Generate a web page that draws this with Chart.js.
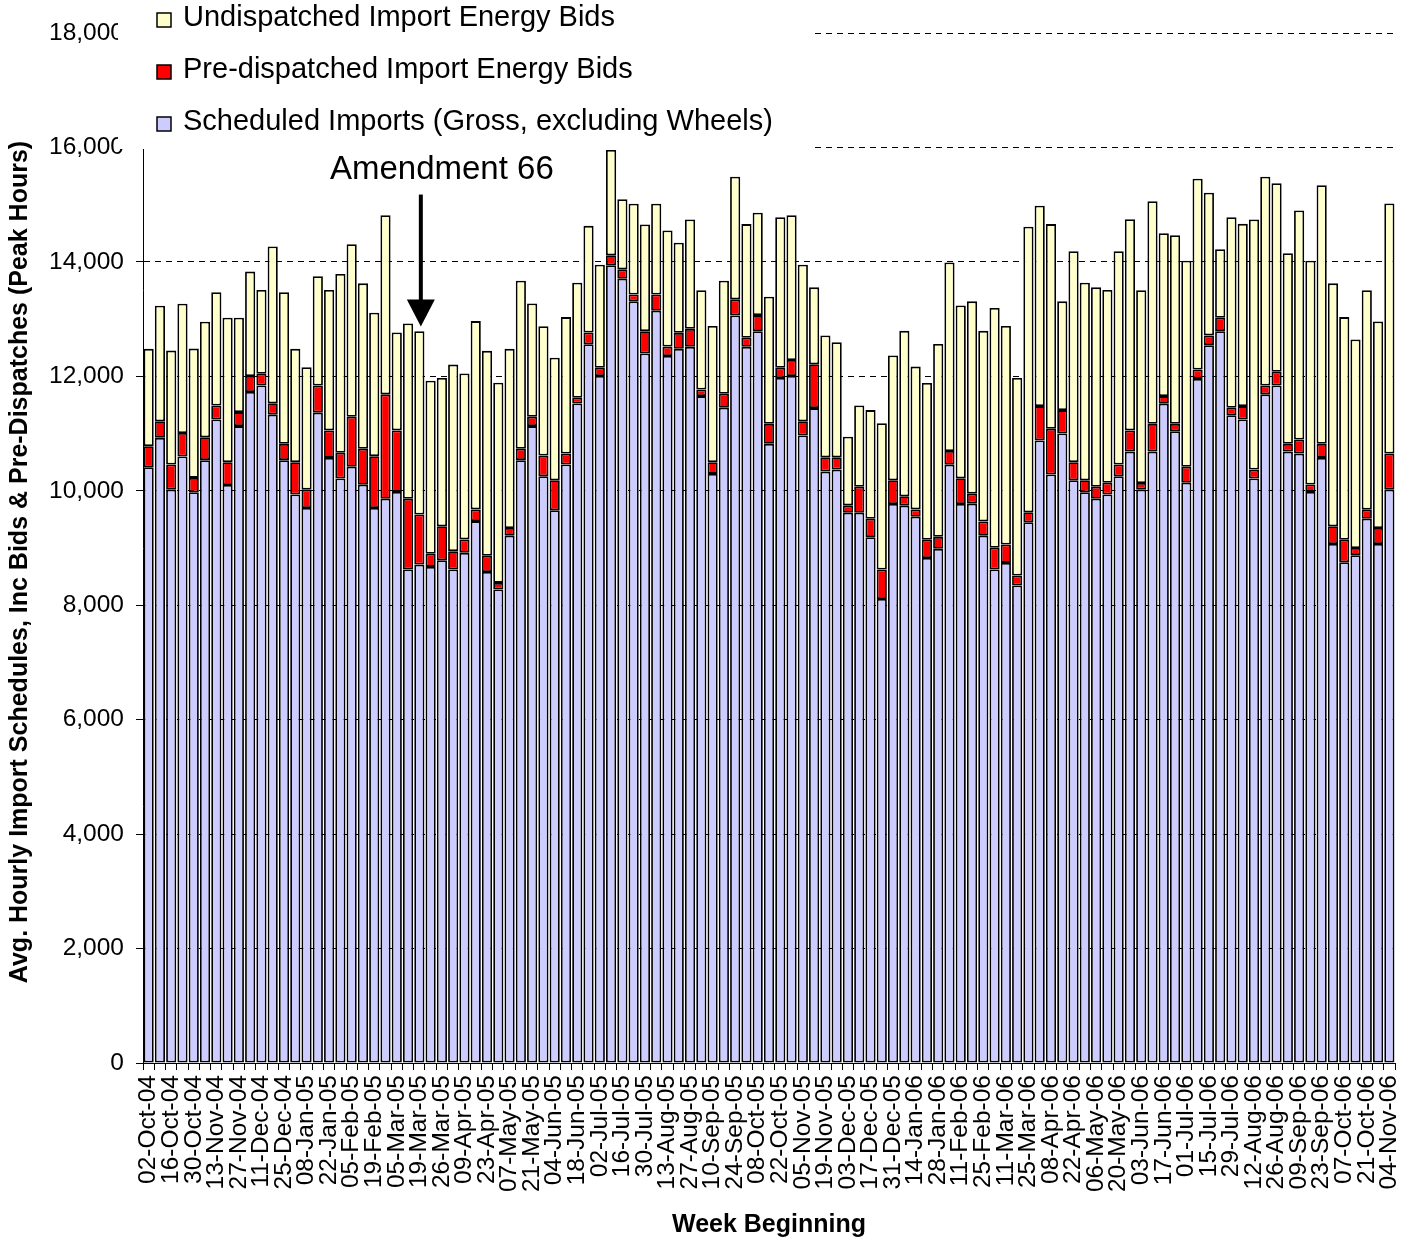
<!DOCTYPE html>
<html>
<head>
<meta charset="utf-8">
<title>Import Schedules, Bids and Pre-Dispatches</title>
<script src="https://cdn.jsdelivr.net/npm/chart.js@4.4.0/dist/chart.umd.min.js"></script>
<style>
  body { margin: 0; background: #ffffff; }
  #chart-wrap { width: 1411px; height: 1242px; }
</style>
</head>
<body>
<div id="chart-wrap"><canvas id="import-chart" width="1411" height="1242"></canvas></div>
<script>
// Week beginning dates (one extra mid-week entry after 19-Mar-05)
const weekLabels = [
  '02-Oct-04', '09-Oct-04', '16-Oct-04', '23-Oct-04', '30-Oct-04', '06-Nov-04', '13-Nov-04', '20-Nov-04',
  '27-Nov-04', '04-Dec-04', '11-Dec-04', '18-Dec-04', '25-Dec-04', '01-Jan-05', '08-Jan-05', '15-Jan-05',
  '22-Jan-05', '29-Jan-05', '05-Feb-05', '12-Feb-05', '19-Feb-05', '26-Feb-05', '05-Mar-05', '12-Mar-05',
  '19-Mar-05', '22-Mar-05', '26-Mar-05', '02-Apr-05', '09-Apr-05', '16-Apr-05', '23-Apr-05', '30-Apr-05',
  '07-May-05', '14-May-05', '21-May-05', '28-May-05', '04-Jun-05', '11-Jun-05', '18-Jun-05', '25-Jun-05',
  '02-Jul-05', '09-Jul-05', '16-Jul-05', '23-Jul-05', '30-Jul-05', '06-Aug-05', '13-Aug-05', '20-Aug-05',
  '27-Aug-05', '03-Sep-05', '10-Sep-05', '17-Sep-05', '24-Sep-05', '01-Oct-05', '08-Oct-05', '15-Oct-05',
  '22-Oct-05', '29-Oct-05', '05-Nov-05', '12-Nov-05', '19-Nov-05', '26-Nov-05', '03-Dec-05', '10-Dec-05',
  '17-Dec-05', '24-Dec-05', '31-Dec-05', '07-Jan-06', '14-Jan-06', '21-Jan-06', '28-Jan-06', '04-Feb-06',
  '11-Feb-06', '18-Feb-06', '25-Feb-06', '04-Mar-06', '11-Mar-06', '18-Mar-06', '25-Mar-06', '01-Apr-06',
  '08-Apr-06', '15-Apr-06', '22-Apr-06', '29-Apr-06', '06-May-06', '13-May-06', '20-May-06', '27-May-06',
  '03-Jun-06', '10-Jun-06', '17-Jun-06', '24-Jun-06', '01-Jul-06', '08-Jul-06', '15-Jul-06', '22-Jul-06',
  '29-Jul-06', '05-Aug-06', '12-Aug-06', '19-Aug-06', '26-Aug-06', '02-Sep-06', '09-Sep-06', '16-Sep-06',
  '23-Sep-06', '30-Sep-06', '07-Oct-06', '14-Oct-06', '21-Oct-06', '28-Oct-06', '04-Nov-06'
];

// Scheduled Imports (Gross, excluding Wheels)
const scheduledImports = [
  10410, 10925, 10020, 10600, 9975, 10535, 11245, 10100, 11130, 11725, 11840, 11330, 10535, 9935, 9700, 11365,
  10575, 10215, 10420, 10105, 9700, 9860, 9980, 8625, 8710, 8670, 8785, 8625, 8915, 9470, 8580, 8275,
  9215, 10535, 11130, 10255, 9660, 10460, 11525, 12560, 12005, 13940, 13705, 13310, 12400, 13145, 12355, 12480,
  12515, 11655, 10295, 11450, 13065, 12515, 12790, 10820, 11970, 12005, 10965, 11445, 10335, 10370, 9615, 9615,
  9190, 8110, 9770, 9740, 9545, 8825, 8985, 10455, 9770, 9775, 9215, 8625, 8740, 8345, 9450, 10880,
  10285, 11000, 10185, 9975, 9860, 9935, 10255, 10685, 10020, 10685, 11520, 11040, 10140, 11955, 12545, 12790,
  11320, 11245, 10215, 11685, 11840, 10685, 10650, 9980, 10575, 9070, 8750, 8875, 9510, 9070, 10020
];

// Pre-dispatched Import Energy Bids
const preDispatched = [
  370, 290, 440, 410, 250, 400, 245, 400, 245, 280, 205, 200, 285, 565, 320, 475,
  480, 450, 875, 630, 905, 1825, 1075, 1235, 875, 230, 595, 320, 235, 205, 285, 115,
  135, 200, 165, 360, 525, 190, 100, 205, 145, 175, 165, 120, 390, 285, 165, 280,
  315, 115, 205, 245, 280, 160, 280, 350, 180, 280, 250, 765, 250, 215, 130, 455,
  320, 515, 415, 165, 130, 320, 210, 240, 450, 175, 250, 380, 320, 175, 175, 600,
  800, 410, 315, 210, 210, 205, 205, 370, 115, 485, 135, 130, 280, 165, 170, 235,
  130, 235, 155, 155, 240, 135, 245, 130, 245, 310, 395, 125, 160, 280, 630
];

// Undispatched Import Energy Bids
const undispatched = [
  1700, 2020, 1990, 2260, 2260, 2020, 1980, 2525, 1650, 1825, 1465, 2740, 2650, 1980, 2140, 1910,
  2455, 3125, 3015, 2890, 2505, 3130, 1710, 3065, 3205, 3025, 2590, 3260, 2900, 3290, 3580, 3500,
  3130, 2935, 1980, 2260, 2140, 2385, 2010, 1865, 1800, 1840, 1225, 1585, 1865, 1585, 2030, 1575,
  1910, 1735, 2380, 1975, 2145, 1985, 1790, 2220, 2630, 2530, 2735, 1345, 2130, 2010, 1200, 1420,
  1900, 2555, 2180, 2890, 2495, 2740, 3370, 3295, 3020, 3360, 3330, 4190, 3820, 3450, 4990, 3500,
  3575, 1900, 3685, 3450, 3485, 3370, 3725, 3690, 3370, 3890, 2845, 3295, 3600, 3335, 2495, 1195,
  3330, 3185, 4370, 3650, 3295, 3330, 4005, 3910, 4520, 4245, 3890, 3645, 3835, 3610, 4370
];

const seriesNames = [
  'Scheduled Imports (Gross, excluding Wheels)',
  'Pre-dispatched Import Energy Bids',
  'Undispatched Import Energy Bids'
];
const seriesColors = ['#CCCCFF', '#FF0000', '#FFFFCC'];

const yAxisMax = 18000;
const yAxisStep = 2000;
const yAxisTitle = 'Avg. Hourly Import Schedules, Inc Bids & Pre-Dispatches (Peak Hours)';
const xAxisTitle = 'Week Beginning';

const annotationText = 'Amendment 66';
const annotationWeek = '19-Mar-05';
const annotationTipValue = 12870;

document.addEventListener('DOMContentLoaded', function() {
  const FONT = 'Arial, "Liberation Sans", sans-serif';
  Chart.defaults.color = '#000000';
  Chart.defaults.font.family = FONT;

  // Draws the legend box over the top-left corner, the arrow note and the y title
  const overlayPlugin = {
    id: 'overlay',
    afterDatasetsDraw(chart) {
      const ctx = chart.ctx;
      const xScale = chart.scales.x;
      const yScale = chart.scales.y;
      ctx.save();

      // White legend panel (hides the top of the axis and grid lines, as in the original)
      ctx.fillStyle = '#ffffff';
      ctx.fillRect(118, 0, 697, 149);

      ctx.font = '29px ' + FONT;
      ctx.textAlign = 'left';
      ctx.textBaseline = 'middle';
      [2, 1, 0].forEach(function(idx, row) {
        const cy = 18 + row * 52;
        ctx.fillStyle = seriesColors[idx];
        ctx.fillRect(157, cy - 5, 14, 14);
        ctx.lineWidth = 1.5;
        ctx.strokeStyle = '#000000';
        ctx.strokeRect(157, cy - 5, 14, 14);
        ctx.fillStyle = '#000000';
        ctx.fillText(seriesNames[idx], 183, cy);
      });

      // Amendment 66 arrow
      const ax = xScale.getPixelForValue(weekLabels.indexOf(annotationWeek)) + 1.5;
      const tipY = yScale.getPixelForValue(annotationTipValue);
      ctx.fillStyle = '#000000';
      ctx.font = '33px ' + FONT;
      ctx.textAlign = 'center';
      ctx.textBaseline = 'alphabetic';
      ctx.fillText(annotationText, ax + 21, tipY - 148);

      ctx.lineWidth = 4;
      ctx.beginPath();
      ctx.moveTo(ax, tipY - 132);
      ctx.lineTo(ax, tipY - 24);
      ctx.stroke();
      ctx.beginPath();
      ctx.moveTo(ax - 14, tipY - 27);
      ctx.lineTo(ax + 14, tipY - 27);
      ctx.lineTo(ax, tipY);
      ctx.closePath();
      ctx.fill();

      ctx.restore();
    },
    afterDraw(chart) {
      const ctx = chart.ctx;
      ctx.save();
      ctx.translate(20, 562);
      ctx.rotate(-Math.PI / 2);
      ctx.font = 'bold 25px ' + FONT;
      ctx.fillStyle = '#000000';
      ctx.textAlign = 'center';
      ctx.textBaseline = 'middle';
      ctx.fillText(yAxisTitle, 0, 0);
      ctx.restore();
    }
  };

  const seriesData = [scheduledImports, preDispatched, undispatched];
  const datasets = seriesData.map(function(values, i) {
    return {
      label: seriesNames[i],
      data: values,
      backgroundColor: seriesColors[i],
      borderColor: '#000000',
      borderWidth: 1.8,
      borderSkipped: false,
      barPercentage: 0.9,
      categoryPercentage: 1.0
    };
  });

  const ctx = document.getElementById('import-chart').getContext('2d');
  new Chart(ctx, {
    type: 'bar',
    data: { labels: weekLabels, datasets: datasets },
    options: {
      responsive: false,
      animation: false,
      locale: 'en-US',
      layout: { padding: { top: 33, right: 16, left: 0, bottom: 0 } },
      plugins: {
        legend: { display: false },
        tooltip: { enabled: false }
      },
      scales: {
        x: {
          stacked: true,
          offset: true,
          grid: {
            offset: true,
            drawOnChartArea: false,
            drawTicks: true,
            tickLength: 7,
            color: '#000000'
          },
          border: { display: true, color: '#000000', width: 1 },
          ticks: {
            autoSkip: false,
            maxRotation: 90,
            minRotation: 90,
            padding: 5,
            font: { size: 24.5 },
            callback: function(value, index) {
              return index % 2 === 0 ? weekLabels[index] : '';
            }
          },
          title: {
            display: true,
            text: xAxisTitle,
            font: { size: 25, weight: 'bold' },
            padding: { top: 0, bottom: 2 }
          },
          afterFit: function(scale) {
            // fixed axis height; rotated labels should not push the plot edges in
            scale.height = 179;
            scale.paddingLeft = 0;
            scale.paddingRight = 0;
          }
        },
        y: {
          stacked: true,
          min: 0,
          max: yAxisMax,
          grid: {
            color: '#000000',
            lineWidth: 1,
            tickLength: 7,
            tickBorderDash: []
          },
          border: { display: true, color: '#000000', width: 1, dash: [6, 5] },
          ticks: {
            stepSize: yAxisStep,
            padding: 12,
            font: { size: 24.5 }
          },
          afterFit: function(scale) { scale.width = 143; }
        }
      }
    },
    plugins: [overlayPlugin]
  });
});
</script>
</body>
</html>
